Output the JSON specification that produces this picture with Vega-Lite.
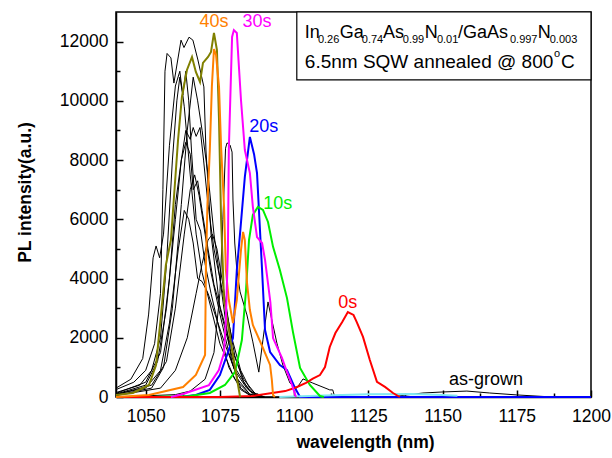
{
  "$schema": "https://vega.github.io/schema/vega-lite/v6.json",
  "width": 475,
  "height": 385,
  "autosize": {"type": "none"},
  "padding": {"left": 116, "top": 12, "right": 21, "bottom": 61},
  "background": "white",
  "config": {
    "font": "Liberation Sans",
    "view": {"stroke": "black", "strokeWidth": 1.5},
    "axis": {
      "grid": false,
      "domainColor": "black",
      "domainWidth": 1.5,
      "tickColor": "black",
      "tickWidth": 1.5,
      "labelColor": "black",
      "labelFont": "Liberation Sans",
      "labelFontSize": 17.5,
      "labelFlush": false,
      "labelOverlap": false,
      "labelBound": false,
      "titleColor": "black",
      "titleFont": "Liberation Sans",
      "titleFontWeight": "bold",
      "titleFontSize": 17.5
    }
  },
  "resolve": {"axis": {"x": "independent", "y": "independent"}},
  "datasets": {
    "black": [
      {"s":"k1","w":1040,"v":250},{"s":"k1","w":1046,"v":500},{"s":"k1","w":1050,"v":900},{"s":"k1","w":1053,"v":1800},{"s":"k1","w":1055,"v":3500},{"s":"k1","w":1055.8,"v":7000},{"s":"k1","w":1056.5,"v":11000},{"s":"k1","w":1057.2,"v":11600},{"s":"k1","w":1058.5,"v":11450},{"s":"k1","w":1059.5,"v":10600},{"s":"k1","w":1061.9,"v":12050},{"s":"k1","w":1062.9,"v":11800},{"s":"k1","w":1064.6,"v":12150},{"s":"k1","w":1065.9,"v":12050},{"s":"k1","w":1067.6,"v":11380},{"s":"k1","w":1069.6,"v":10470},{"s":"k1","w":1070.3,"v":8340},{"s":"k1","w":1072,"v":5500},{"s":"k1","w":1075,"v":3000},{"s":"k1","w":1080,"v":1000},{"s":"k1","w":1085,"v":200},{"s":"k1","w":1090,"v":0},
      {"s":"k2","w":1040,"v":150},{"s":"k2","w":1048,"v":400},{"s":"k2","w":1052,"v":900},{"s":"k2","w":1055,"v":2000},{"s":"k2","w":1057,"v":4500},{"s":"k2","w":1059,"v":8000},{"s":"k2","w":1060.5,"v":10000},{"s":"k2","w":1061.5,"v":10800},{"s":"k2","w":1062.5,"v":10200},{"s":"k2","w":1063.5,"v":11000},{"s":"k2","w":1064.5,"v":10000},{"s":"k2","w":1065.5,"v":8200},{"s":"k2","w":1067,"v":6000},{"s":"k2","w":1068.5,"v":5600},{"s":"k2","w":1070,"v":4500},{"s":"k2","w":1072,"v":3500},{"s":"k2","w":1075,"v":2200},{"s":"k2","w":1078,"v":1000},{"s":"k2","w":1082,"v":250},{"s":"k2","w":1086,"v":0},
      {"s":"k3","w":1040,"v":100},{"s":"k3","w":1050,"v":400},{"s":"k3","w":1054,"v":1200},{"s":"k3","w":1057,"v":3000},{"s":"k3","w":1060,"v":6000},{"s":"k3","w":1062,"v":8000},{"s":"k3","w":1063.5,"v":9000},{"s":"k3","w":1065,"v":8700},{"s":"k3","w":1066,"v":9100},{"s":"k3","w":1067,"v":8800},{"s":"k3","w":1068.3,"v":9100},{"s":"k3","w":1069.5,"v":8000},{"s":"k3","w":1071,"v":6500},{"s":"k3","w":1073,"v":5000},{"s":"k3","w":1076,"v":3500},{"s":"k3","w":1079,"v":2000},{"s":"k3","w":1082,"v":900},{"s":"k3","w":1085,"v":300},{"s":"k3","w":1088,"v":0},
      {"s":"k4","w":1040,"v":120},{"s":"k4","w":1050,"v":500},{"s":"k4","w":1055,"v":1500},{"s":"k4","w":1058,"v":4000},{"s":"k4","w":1060,"v":6500},{"s":"k4","w":1062,"v":8000},{"s":"k4","w":1063.5,"v":8600},{"s":"k4","w":1065,"v":8200},{"s":"k4","w":1066,"v":7000},{"s":"k4","w":1067.5,"v":7300},{"s":"k4","w":1069,"v":6300},{"s":"k4","w":1071,"v":5000},{"s":"k4","w":1073,"v":3800},{"s":"k4","w":1076,"v":2700},{"s":"k4","w":1079,"v":1600},{"s":"k4","w":1083,"v":600},{"s":"k4","w":1087,"v":100},{"s":"k4","w":1090,"v":0},
      {"s":"k5","w":1040,"v":300},{"s":"k5","w":1045,"v":600},{"s":"k5","w":1049,"v":1300},{"s":"k5","w":1051,"v":2800},{"s":"k5","w":1052.5,"v":4700},{"s":"k5","w":1053.5,"v":5100},{"s":"k5","w":1054.7,"v":4700},{"s":"k5","w":1056,"v":5500},{"s":"k5","w":1058,"v":8500},{"s":"k5","w":1060,"v":10500},{"s":"k5","w":1061.5,"v":11000},{"s":"k5","w":1063,"v":9800},{"s":"k5","w":1065,"v":7500},{"s":"k5","w":1067,"v":5500},{"s":"k5","w":1069,"v":4200},{"s":"k5","w":1072,"v":3000},{"s":"k5","w":1075,"v":1800},{"s":"k5","w":1080,"v":600},{"s":"k5","w":1085,"v":100},{"s":"k5","w":1089,"v":0},
      {"s":"k6","w":1040,"v":0},{"s":"k6","w":1060,"v":80},{"s":"k6","w":1065,"v":200},{"s":"k6","w":1070,"v":600},{"s":"k6","w":1073,"v":1500},{"s":"k6","w":1075,"v":3500},{"s":"k6","w":1076,"v":6000},{"s":"k6","w":1076.9,"v":8400},{"s":"k6","w":1077.4,"v":8580},{"s":"k6","w":1078.4,"v":8510},{"s":"k6","w":1079.1,"v":8270},{"s":"k6","w":1079.4,"v":6650},{"s":"k6","w":1080,"v":5200},{"s":"k6","w":1080.7,"v":4290},{"s":"k6","w":1081.8,"v":3550},{"s":"k6","w":1084.1,"v":2770},{"s":"k6","w":1086.1,"v":1860},{"s":"k6","w":1088.1,"v":840},{"s":"k6","w":1089.5,"v":1930},{"s":"k6","w":1091.2,"v":3210},{"s":"k6","w":1092.5,"v":2600},{"s":"k6","w":1094.2,"v":1820},{"s":"k6","w":1096.2,"v":1080},{"s":"k6","w":1098.6,"v":470},{"s":"k6","w":1100.9,"v":300},{"s":"k6","w":1103,"v":610},{"s":"k6","w":1106.3,"v":470},{"s":"k6","w":1112,"v":240},{"s":"k6","w":1113,"v":240},{"s":"k6","w":1113.7,"v":0},
      {"s":"k7","w":1040,"v":100},{"s":"k7","w":1050,"v":300},{"s":"k7","w":1055,"v":900},{"s":"k7","w":1058,"v":2500},{"s":"k7","w":1061,"v":5000},{"s":"k7","w":1063,"v":6300},{"s":"k7","w":1064.5,"v":6000},{"s":"k7","w":1066,"v":5200},{"s":"k7","w":1067.5,"v":4000},{"s":"k7","w":1069,"v":3900},{"s":"k7","w":1071,"v":3500},{"s":"k7","w":1074,"v":2600},{"s":"k7","w":1077,"v":1700},{"s":"k7","w":1080,"v":900},{"s":"k7","w":1084,"v":300},{"s":"k7","w":1088,"v":0},
      {"s":"k8","w":1040,"v":80},{"s":"k8","w":1052,"v":400},{"s":"k8","w":1057,"v":1200},{"s":"k8","w":1060,"v":3000},{"s":"k8","w":1063,"v":5500},{"s":"k8","w":1065,"v":7000},{"s":"k8","w":1066.5,"v":7500},{"s":"k8","w":1068,"v":6800},{"s":"k8","w":1070,"v":5500},{"s":"k8","w":1072,"v":4200},{"s":"k8","w":1075,"v":2800},{"s":"k8","w":1078,"v":1500},{"s":"k8","w":1081,"v":600},{"s":"k8","w":1085,"v":100},{"s":"k8","w":1088,"v":0},
      {"s":"k9","w":1040,"v":60},{"s":"k9","w":1052,"v":300},{"s":"k9","w":1056,"v":1000},{"s":"k9","w":1059,"v":3000},{"s":"k9","w":1062,"v":6500},{"s":"k9","w":1064,"v":9000},{"s":"k9","w":1066,"v":10800},{"s":"k9","w":1067.5,"v":10000},{"s":"k9","w":1069,"v":9000},{"s":"k9","w":1071,"v":7500},{"s":"k9","w":1073,"v":5500},{"s":"k9","w":1075,"v":4000},{"s":"k9","w":1077,"v":2500},{"s":"k9","w":1079,"v":1200},{"s":"k9","w":1082,"v":300},{"s":"k9","w":1086,"v":0},
      {"s":"k10","w":1040,"v":50},{"s":"k10","w":1055,"v":300},{"s":"k10","w":1060,"v":900},{"s":"k10","w":1064,"v":2000},{"s":"k10","w":1067,"v":3500},{"s":"k10","w":1069,"v":4500},{"s":"k10","w":1071,"v":5300},{"s":"k10","w":1072.5,"v":5500},{"s":"k10","w":1074,"v":5000},{"s":"k10","w":1076,"v":3800},{"s":"k10","w":1078,"v":2500},{"s":"k10","w":1080,"v":1400},{"s":"k10","w":1083,"v":500},{"s":"k10","w":1086,"v":100},{"s":"k10","w":1090,"v":0},
      {"s":"asg","w":1112,"v":0},{"s":"asg","w":1132.3,"v":0},{"s":"asg","w":1138,"v":70},{"s":"asg","w":1143.4,"v":135},{"s":"asg","w":1150.1,"v":170},{"s":"asg","w":1158.2,"v":200},{"s":"asg","w":1165.9,"v":135},{"s":"asg","w":1175,"v":70},{"s":"asg","w":1187.1,"v":0},{"s":"asg","w":1200,"v":0}
    ],
    "colored": [
      {"s":"20s","w":1061.5,"v":0},{"s":"20s","w":1066.9,"v":70},{"s":"20s","w":1071.6,"v":240},{"s":"20s","w":1075,"v":740},{"s":"20s","w":1079.4,"v":1990},{"s":"20s","w":1080.7,"v":4290},{"s":"20s","w":1081.8,"v":5540},{"s":"20s","w":1083.4,"v":7430},{"s":"20s","w":1085.1,"v":8780},{"s":"20s","w":1086.5,"v":8200},{"s":"20s","w":1087.5,"v":7560},{"s":"20s","w":1089.2,"v":4290},{"s":"20s","w":1090.2,"v":2260},{"s":"20s","w":1091.9,"v":1520},{"s":"20s","w":1095.2,"v":1080},{"s":"20s","w":1097.6,"v":910},{"s":"20s","w":1100.3,"v":300},{"s":"20s","w":1102,"v":0},{"s":"20s","w":1200,"v":0},
      {"s":"cyan","w":1095,"v":0},{"s":"cyan","w":1100,"v":20},{"s":"cyan","w":1110,"v":50},{"s":"cyan","w":1125,"v":90},{"s":"cyan","w":1140,"v":100},{"s":"cyan","w":1150,"v":70},{"s":"cyan","w":1155,"v":40},
      {"s":"10s","w":1051.4,"v":0},{"s":"10s","w":1064.9,"v":34},{"s":"10s","w":1071.6,"v":135},{"s":"10s","w":1076.7,"v":405},{"s":"10s","w":1080.1,"v":845},{"s":"10s","w":1082.4,"v":1925},{"s":"10s","w":1083.8,"v":3610},{"s":"10s","w":1084.8,"v":5300},{"s":"10s","w":1086.1,"v":6150},{"s":"10s","w":1087.8,"v":6420},{"s":"10s","w":1089.5,"v":6315},{"s":"10s","w":1091.2,"v":5910},{"s":"10s","w":1092.9,"v":5070},{"s":"10s","w":1095.2,"v":4290},{"s":"10s","w":1097.6,"v":3340},{"s":"10s","w":1099.6,"v":2200},{"s":"10s","w":1102,"v":980},{"s":"10s","w":1105.3,"v":405},{"s":"10s","w":1108.7,"v":34},{"s":"10s","w":1110,"v":0},
      {"s":"0s","w":1040,"v":0},{"s":"0s","w":1075,"v":0},{"s":"0s","w":1086,"v":34},{"s":"0s","w":1097,"v":200},{"s":"0s","w":1100.6,"v":320},{"s":"0s","w":1104,"v":480},{"s":"0s","w":1106.3,"v":620},{"s":"0s","w":1108.7,"v":740},{"s":"0s","w":1110.4,"v":1010},{"s":"0s","w":1112,"v":1690},{"s":"0s","w":1113.9,"v":2160},{"s":"0s","w":1116.2,"v":2530},{"s":"0s","w":1118.1,"v":2870},{"s":"0s","w":1120,"v":2770},{"s":"0s","w":1121.1,"v":2530},{"s":"0s","w":1123.2,"v":2030},{"s":"0s","w":1125.5,"v":1250},{"s":"0s","w":1127.9,"v":510},{"s":"0s","w":1130.6,"v":340},{"s":"0s","w":1133.3,"v":135},{"s":"0s","w":1135.6,"v":0},
      {"s":"olive","w":1040,"v":68},{"s":"olive","w":1045.7,"v":135},{"s":"olive","w":1051.1,"v":405},{"s":"olive","w":1053.5,"v":1081},{"s":"olive","w":1056.8,"v":4458},{"s":"olive","w":1058.5,"v":5302},{"s":"olive","w":1060.9,"v":8679},{"s":"olive","w":1062.2,"v":10131},{"s":"olive","w":1063.9,"v":11043},{"s":"olive","w":1065.6,"v":11482},{"s":"olive","w":1066.9,"v":10975},{"s":"olive","w":1068.3,"v":10637},{"s":"olive","w":1069.3,"v":11279},{"s":"olive","w":1071,"v":11482},{"s":"olive","w":1072,"v":11650},{"s":"olive","w":1073,"v":12292},{"s":"olive","w":1074,"v":11718},{"s":"olive","w":1074.7,"v":9354},{"s":"olive","w":1075.4,"v":5977},{"s":"olive","w":1076.4,"v":3276},{"s":"olive","w":1079.1,"v":1587},{"s":"olive","w":1081.8,"v":0},
      {"s":"40s","w":1040,"v":0},{"s":"40s","w":1051.1,"v":68},{"s":"40s","w":1062.6,"v":338},{"s":"40s","w":1066.9,"v":743},{"s":"40s","w":1070,"v":1418},{"s":"40s","w":1070.3,"v":4458},{"s":"40s","w":1070.8,"v":6500},{"s":"40s","w":1071.6,"v":8341},{"s":"40s","w":1072.3,"v":10500},{"s":"40s","w":1073,"v":11752},{"s":"40s","w":1073.7,"v":11550},{"s":"40s","w":1074.7,"v":10470},{"s":"40s","w":1075.4,"v":8440},{"s":"40s","w":1076.4,"v":6420},{"s":"40s","w":1077,"v":4290},{"s":"40s","w":1078,"v":3276},{"s":"40s","w":1079.4,"v":2500},{"s":"40s","w":1080.7,"v":3276},{"s":"40s","w":1082.1,"v":4964},{"s":"40s","w":1082.8,"v":5572},{"s":"40s","w":1083.4,"v":5300},{"s":"40s","w":1084.1,"v":3884},{"s":"40s","w":1085.1,"v":2938},{"s":"40s","w":1086.1,"v":2431},{"s":"40s","w":1089.5,"v":1655},{"s":"40s","w":1091.9,"v":1081},{"s":"40s","w":1092.5,"v":574},{"s":"40s","w":1092.9,"v":68},{"s":"40s","w":1093.5,"v":0},
      {"s":"30s","w":1058.5,"v":0},{"s":"30s","w":1062.6,"v":100},{"s":"30s","w":1071.3,"v":400},{"s":"30s","w":1074.6,"v":900},{"s":"30s","w":1076.4,"v":1490},{"s":"30s","w":1077,"v":2600},{"s":"30s","w":1077.7,"v":4960},{"s":"30s","w":1078,"v":8340},{"s":"30s","w":1079.1,"v":12160},{"s":"30s","w":1079.7,"v":12390},{"s":"30s","w":1080.7,"v":12290},{"s":"30s","w":1082.1,"v":10030},{"s":"30s","w":1083.4,"v":8340},{"s":"30s","w":1085.1,"v":7560},{"s":"30s","w":1086.1,"v":6420},{"s":"30s","w":1087.5,"v":5400},{"s":"30s","w":1089.2,"v":5200},{"s":"30s","w":1090.2,"v":4630},{"s":"30s","w":1092,"v":3200},{"s":"30s","w":1092.9,"v":1990},{"s":"30s","w":1095.9,"v":1320},{"s":"30s","w":1097.6,"v":845},{"s":"30s","w":1099.3,"v":405},{"s":"30s","w":1100.6,"v":0}
    ],
    "labels": [
      {"s":"40s","w":1073,"v":12664},
      {"s":"30s","w":1087.5,"v":12664},
      {"s":"20s","w":1089.8,"v":9118},
      {"s":"10s","w":1094.5,"v":6518},
      {"s":"0s","w":1118.1,"v":3174},
      {"s":"as-grown","w":1164.6,"v":574}
    ],
    "box": [{"w":1100.9,"w2":1200,"v":10705,"v2":13000}],
    "main": [
      {"t":"In","w":1103.6,"v":12123},{"t":"Ga","w":1115.4,"v":12123},{"t":"As","w":1129.9,"v":12123},{"t":"N","w":1144.0,"v":12123},{"t":"/GaAs","w":1155.2,"v":12123},{"t":"N","w":1182.1,"v":12123}
    ],
    "line2": [
      {"t":"6.5nm SQW annealed @ 800","w":1103.6,"v":11110},{"t":"C","w":1189.9,"v":11110}
    ],
    "small": [
      {"t":"0.26","w":1108.0,"v":11955},{"t":"0.74","w":1122.8,"v":11955},{"t":"0.99","w":1136.6,"v":11955},{"t":"0.01","w":1148.1,"v":11955},{"t":"0.997","w":1172.7,"v":11955},{"t":"0.003","w":1186.1,"v":11955},
      {"t":"o","w":1187.5,"v":11482}
    ]
  },
  "layer": [
    {
      "data": {"name": "black"},
      "mark": {"type": "line", "color": "black", "strokeWidth": 1},
      "encoding": {
        "x": {"field": "w", "type": "quantitative", "scale": {"domain": [1040, 1200], "nice": false, "zero": false},
          "axis": {"title": "wavelength (nm)", "orient": "bottom", "values": [1050,1075,1100,1125,1150,1175,1200],
            "format": "d", "tickSize": -7, "labelPadding": 17, "titleX": 249, "titleY": 50, "titleBaseline": "alphabetic"}},
        "y": {"field": "v", "type": "quantitative", "scale": {"domain": [0, 13000], "nice": false},
          "axis": {"title": "PL intensity(a.u.)", "orient": "left", "values": [0,2000,4000,6000,8000,10000,12000],
            "format": "d", "tickSize": -7, "labelPadding": 15, "titleX": -86, "titleY": 180, "titleBaseline": "alphabetic"}},
        "detail": {"field": "s"}
      }
    },
    {
      "data": {"name": "colored"},
      "mark": {"type": "line", "strokeWidth": 2},
      "encoding": {
        "x": {"field": "w", "type": "quantitative",
          "axis": {"title": null, "orient": "bottom", "values": [1062.5,1087.5,1112.5,1137.5,1162.5,1187.5], "labels": false, "domain": false, "tickSize": -4}},
        "y": {"field": "v", "type": "quantitative",
          "axis": {"title": null, "orient": "left", "values": [1000,3000,5000,7000,9000,11000], "labels": false, "domain": false, "tickSize": -4}},
        "color": {"field": "s", "type": "nominal", "legend": null,
          "scale": {"domain": ["0s","10s","20s","30s","40s","olive","cyan","as-grown"],
                    "range": ["#FF0000","#00EE00","#0000FF","#FF00FF","#FF8000","#808000","#80E8F0","#000000"]}}
      }
    },
    {
      "data": {"name": "labels"},
      "mark": {"type": "text", "fontSize": 18, "font": "Liberation Sans", "baseline": "middle", "align": "center"},
      "encoding": {
        "x": {"field": "w", "type": "quantitative", "axis": null},
        "y": {"field": "v", "type": "quantitative", "axis": null},
        "text": {"field": "s"},
        "color": {"field": "s", "type": "nominal", "legend": null}
      }
    },
    {
      "data": {"name": "box"},
      "mark": {"type": "rect", "fill": "white", "stroke": "black", "strokeWidth": 1.2},
      "encoding": {
        "x": {"field": "w", "type": "quantitative", "axis": null},
        "x2": {"field": "w2"},
        "y": {"field": "v", "type": "quantitative", "axis": null},
        "y2": {"field": "v2"}
      }
    },
    {
      "data": {"name": "main"},
      "mark": {"type": "text", "fontSize": 18, "font": "Liberation Sans", "baseline": "alphabetic", "align": "left", "color": "black"},
      "encoding": {
        "x": {"field": "w", "type": "quantitative", "axis": null},
        "y": {"field": "v", "type": "quantitative", "axis": null},
        "text": {"field": "t"}
      }
    },
    {
      "data": {"name": "line2"},
      "mark": {"type": "text", "fontSize": 19, "font": "Liberation Sans", "baseline": "alphabetic", "align": "left", "color": "black"},
      "encoding": {
        "x": {"field": "w", "type": "quantitative", "axis": null},
        "y": {"field": "v", "type": "quantitative", "axis": null},
        "text": {"field": "t"}
      }
    },
    {
      "data": {"name": "small"},
      "mark": {"type": "text", "fontSize": 11, "font": "Liberation Sans", "baseline": "alphabetic", "align": "left", "color": "black"},
      "encoding": {
        "x": {"field": "w", "type": "quantitative", "axis": null},
        "y": {"field": "v", "type": "quantitative", "axis": null},
        "text": {"field": "t"}
      }
    }
  ]
}
